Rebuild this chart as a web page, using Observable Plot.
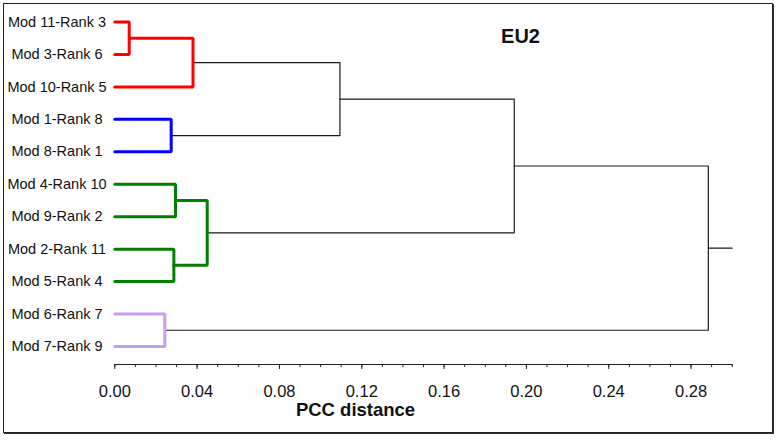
<!DOCTYPE html>
<html><head><meta charset="utf-8">
<script src="https://cdn.jsdelivr.net/npm/d3@7"></script>
<script src="https://cdn.jsdelivr.net/npm/@observablehq/plot@0.6"></script>
<style>
body{margin:0;background:#fff;font-family:"Liberation Sans",Arial,sans-serif;}
#wrap{position:relative;width:776px;height:445px;}
#border{position:absolute;left:3px;top:3px;width:768px;height:428px;border:1px solid #222;box-shadow:1px 1px 0 #333;pointer-events:none;}
</style></head><body><div id="wrap"><div id="border"></div></div>
<script>
// Leaves, top to bottom
const leaves = ["Mod 11-Rank 3","Mod 3-Rank 6","Mod 10-Rank 5","Mod 1-Rank 8","Mod 8-Rank 1","Mod 4-Rank 10","Mod 9-Rank 2","Mod 2-Rank 11","Mod 5-Rank 4","Mod 6-Rank 7","Mod 7-Rank 9"];
// Merges (node ids: leaves 0..10, merge i -> node 11+i)
const mergeLeft   = [0, 11, 3, 5, 7, 14, 9, 12, 18, 19];
const mergeRight  = [1, 2, 4, 6, 8, 15, 10, 13, 16, 17];
const mergeHeight = [0.007, 0.038, 0.0274, 0.0295, 0.0287, 0.0449, 0.0243, 0.1094, 0.1941, 0.2884];
const mergeColor  = ["#ff0000","#ff0000","#0000ff","#008000","#008000","#008000","#c69cf4","#1a1a1a","#1a1a1a","#1a1a1a"];
const rootEnd = 0.30;
const majorTicks = [0, 0.04, 0.08, 0.12, 0.16, 0.20, 0.24, 0.28];
const minorTicks = [0,0.01,0.02,0.03,0.04,0.05,0.06,0.07,0.08,0.09,0.10,0.11,0.12,0.13,0.14,0.15,0.16,0.17,0.18,0.19,0.20,0.21,0.22,0.23,0.24,0.25,0.26,0.27,0.28,0.29,0.30];
const title = "EU2";
const xLabel = "PCC distance";

// build node positions
const nx = leaves.map(() => 0);
const ny = leaves.map((_, i) => i);
mergeHeight.forEach((h, i) => {
  nx.push(h);
  ny.push((ny[mergeLeft[i]] + ny[mergeRight[i]]) / 2);
});
const pts = [];
mergeHeight.forEach((h, i) => {
  const a = mergeLeft[i], b = mergeRight[i], c = mergeColor[i];
  const black = c === "#1a1a1a";
  pts.push({g: i, x: nx[a], y: ny[a], c, black});
  pts.push({g: i, x: h, y: ny[a], c, black});
  pts.push({g: i, x: h, y: ny[b], c, black});
  pts.push({g: i, x: nx[b], y: ny[b], c, black});
});
const rootId = nx.length - 1;
pts.push({g: 99, x: nx[rootId], y: ny[rootId], c: "#1a1a1a", black: true});
pts.push({g: 99, x: rootEnd, y: ny[rootId], c: "#1a1a1a", black: true});

const font = '"Liberation Sans",Arial,sans-serif';
const chart = Plot.plot({
  width: 776, height: 445,
  marginLeft: 114.3, marginRight: 44.3, marginTop: 5, marginBottom: 81,
  style: {fontFamily: font, background: "transparent"},
  x: {domain: [0, 0.30], label: null},
  y: {domain: [-0.508, 10.555], reverse: true, label: null},
  color: {type: "identity"},
  marks: [
    Plot.line(pts.filter(d => d.black), {x: "x", y: "y", z: "g", stroke: "c", strokeWidth: 1.2, curve: "linear"}),
    Plot.line(pts.filter(d => !d.black), {x: "x", y: "y", z: "g", stroke: "c", strokeWidth: 3, strokeLinejoin: "miter", curve: "linear"}),
    Plot.frame({anchor: "bottom", stroke: "#222", strokeWidth: 1.2}),
    Plot.axisX(minorTicks, {tickSize: 3, text: null, label: null, stroke: "#222"}),
    Plot.axisX(majorTicks, {tickSize: 5, tickPadding: 16, label: null, tickFormat: d3.format(".2f"), fontSize: 16.5, fill: "#111", stroke: "#222"}),
    Plot.axisY(leaves.map((_, i) => i), {tickSize: 0, tickPadding: 57.8, label: null, textAnchor: "middle", tickFormat: i => leaves[i], fontSize: 14.5, fill: "#111"}),
    Plot.text([title], {frameAnchor: "top", dx: 97, dy: 23.6, text: d => d, fontSize: 20, fontWeight: "bold", fill: "#111"}),
    Plot.text([xLabel], {frameAnchor: "bottom", dx: -68, dy: 51, text: d => d, fontSize: 18.5, fontWeight: "bold", fill: "#111"})
  ]
});
document.getElementById("wrap").prepend(chart);
</script>
</body></html>
